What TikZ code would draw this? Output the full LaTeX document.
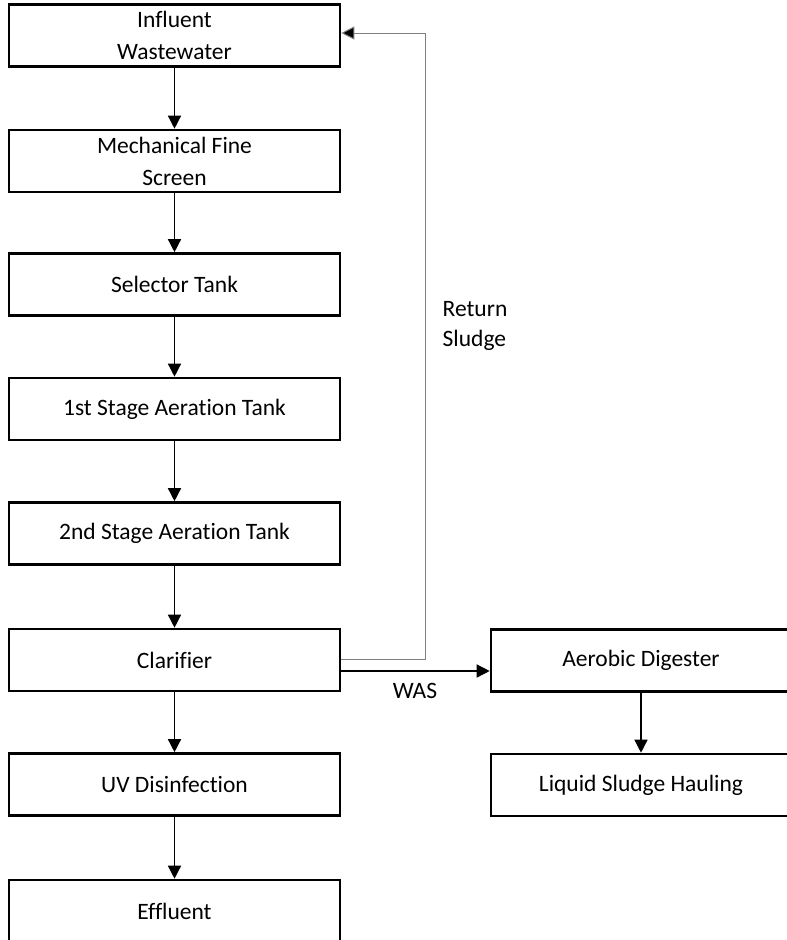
\documentclass[tikz,border=0pt]{standalone}
\usepackage[svgnames]{xcolor}
\usepackage{fontspec}
\setmainfont[RawFeature={-liga;-clig;-calt;-dlig}]{Carlito}
\usetikzlibrary{arrows.meta}

\tikzset{
  stage/.style={draw,line width=2.6pt,minimum width=331pt,minimum height=62pt,align=center,inner sep=0pt,font=\fontsize{23.5}{32}\selectfont},
  flow/.style={line width=1.4pt,-{Triangle[width=13pt,length=13pt]}},
  ret/.style={draw=Gray,line width=1pt,-{Triangle[width=13pt,length=13pt,fill=black]}},
  lbl/.style={font=\fontsize{23.5}{30}\selectfont,align=left,inner sep=0pt}
}

\begin{document}
\begin{tikzpicture}[x=1pt,y=-1pt]
\useasboundingbox (0,0) rectangle (787,940);
% main treatment line
\node[stage] (inf) at (174.5,35.5) {Influent\\Wastewater};
\node[stage] (mech) at (174.5,161) {Mechanical Fine\\Screen};
\node[stage] (sel) at (174.5,284.5) {Selector Tank};
\node[stage] (aer1) at (174.5,409) {1st Stage Aeration Tank};
\node[stage] (aer2) at (174.5,533.5) {2nd Stage Aeration Tank};
\node[stage] (clar) at (174.5,660) {Clarifier};
\node[stage] (uv) at (174.5,784.5) {UV Disinfection};
\node[stage] (eff) at (174.5,911) {Effluent};
% sludge line
\node[stage,minimum width=300pt] (dig) at (641,660.5) {Aerobic Digester};
\node[stage,minimum width=300pt] (haul) at (641,785) {Liquid Sludge Hauling};
\foreach \from/\to in {inf/mech,mech/sel,sel/aer1,aer1/aer2,aer2/clar,clar/uv,uv/eff,dig/haul}
  \draw[flow] (\from) -- (\to);
\coordinate (rtop) at (425,33);
\coordinate (rbot) at (425,659);
\coordinate (was) at (420,671);
\draw[ret] (clar.east |- rbot) -- (rbot) -- (rtop) -- (inf.east |- rtop);
\draw[flow] (clar.east |- was) -- (dig.west |- was);
\node[lbl] (retlbl) at (475,326) {Return\\Sludge};
\node[lbl] (waslbl) at (415,691) {WAS};
\end{tikzpicture}
\end{document}
